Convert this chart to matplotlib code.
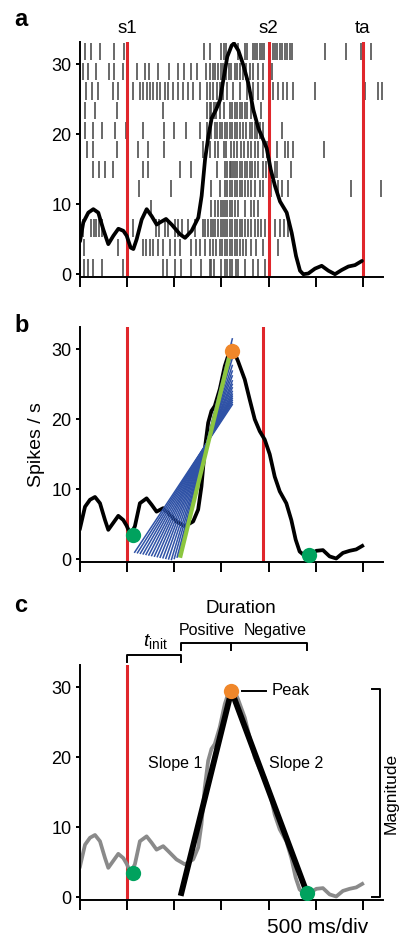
import matplotlib
matplotlib.use('Agg')
import matplotlib.pyplot as plt

plt.rcParams['font.family'] = ['Liberation Sans', 'DejaVu Sans']
plt.rcParams['mathtext.fontset'] = 'custom'
plt.rcParams['mathtext.rm'] = 'Liberation Sans'
plt.rcParams['mathtext.it'] = 'Liberation Sans:italic'

RED = '#e0262b'
GREEN_DOT = '#00a25e'
ORANGE = '#f0872a'
BLUE = '#2f52a6'
LIME = '#8cc63f'

# event times (ms)
S1, S2, TA = 500, 2000, 3000
S2_B = 1940

# spike raster, rows top -> bottom (ms)
raster = [
    [57, 120, 212, 361, 463, 1315, 1382, 1499, 1524, 1552, 1676, 1746, 1771, 1835, 1852, 1874,
     1905, 1930, 1951, 2047, 2065, 2093, 2117, 2142, 2171, 2199, 2224, 2248, 2595, 2824, 2976, 3090],
    [32, 85, 173, 304, 361, 456, 608, 686, 732, 827, 940, 1039, 1103, 1174, 1244, 1340, 1375,
     1410, 1435, 1463, 1492, 1517, 1552, 1577, 1605, 1640, 1669, 1700, 1729, 1764, 1799, 1835,
     1888, 1941, 2040],
    [64, 124, 194, 354, 407, 513, 566, 636, 672, 707, 742, 778, 813, 848, 901, 937, 990, 1043,
     1096, 1149, 1202, 1273, 1343, 1379, 1414, 1449, 1485, 1520, 1555, 1626, 1697, 1767, 1838,
     1891, 1944, 2015, 2050, 2103, 2156, 2192, 2262, 2492, 3022, 3164, 3205],
    [57, 156, 396, 880, 1350, 1375, 1393, 1421, 1446, 1481, 1527, 1587, 1612, 1640, 1669, 1693,
     1718, 1746, 1775, 1810, 1916],
    [49, 138, 233, 375, 491, 668, 891, 997, 1128, 1269, 1350, 1393, 1428, 1456, 1481, 1506, 1534,
     1562, 1587, 1612, 1640, 1669, 1693, 1729, 1764, 1799, 1824, 1852, 1881, 1905, 1941, 2142],
    [78, 138, 396, 615, 721, 891, 1304, 1375, 1428, 1463, 1527, 1552, 1598, 1633, 1669, 1704,
     1739, 1782, 1817, 1852, 1888, 1941, 1987, 2093, 2171, 2206, 2259, 2588],
    [138, 198, 269, 350, 668, 721, 1057, 1181, 1456, 1534, 1562, 1587, 1605, 1623, 1647, 1669,
     1693, 1718, 1746, 1775, 1799, 1824, 1852, 1888, 1941, 1976, 2064, 2093, 2241],
    [622, 962, 1393, 1481, 1534, 1562, 1587, 1612, 1640, 1669, 1693, 1718, 1746, 1782, 1817,
     1852, 1905, 1941, 2029, 2100, 2142, 2206, 2878, 3196],
    [756, 1393, 1435, 1463, 1492, 1517, 1541, 1562, 1587, 1612, 1640, 1676, 1746, 1810, 1840, 1890],
    [32, 120, 148, 173, 198, 233, 562, 810, 834, 905, 933, 1004, 1039, 1082, 1145, 1216, 1304,
     1329, 1357, 1386, 1410, 1435, 1463, 1492, 1517, 1541, 1562, 1587, 1612, 1640, 1669, 1693,
     1718, 1746, 1782, 1817, 1852, 1888, 1923, 1958, 2011, 2064, 2117, 2163, 2206],
    [42, 403, 668, 703, 739, 774, 827, 880, 951, 1004, 1057, 1181, 1234, 1269, 1322, 1375, 1410,
     1446, 1481, 1506, 1534, 1562, 1587, 1612, 1640, 1669, 1693, 1729, 1764, 1817, 1870, 1941,
     2011, 2100],
    [42, 85, 138, 233, 456, 880, 926, 1004, 1075, 1181, 1287, 1375, 1393, 1421, 1499, 1534,
     1562, 1590, 1612, 1650, 1676, 1746, 1835, 1890, 1960],
]

# smoothed rate, panel a
rate_a_t = [0, 35, 88, 141, 194, 247, 300, 354, 407, 460, 495, 537, 566, 601, 654, 707, 760,
            813, 848, 912, 972, 1061, 1114, 1184, 1255, 1290, 1326, 1361, 1396, 1442, 1485,
            1520, 1562, 1608, 1633, 1679, 1732, 1785, 1838, 1891, 1944, 1980, 2022, 2068,
            2121, 2192, 2245, 2291, 2333, 2368, 2421, 2492, 2563, 2634, 2704, 2775, 2846,
            2916, 2990]
rate_a_v = [4.7, 7.4, 8.8, 9.3, 8.8, 6.4, 4.3, 5.5, 6.5, 6.2, 5.5, 3.8, 3.6, 5.0, 7.8, 9.3, 8.3,
            7.1, 7.4, 7.9, 7.1, 5.7, 5.2, 6.2, 8.1, 11.2, 16.4, 19.7, 22.3, 23.5, 24.9,
            27.8, 31.1, 32.7, 33.0, 32.0, 29.9, 27.3, 23.5, 20.9, 19.2, 18.0, 15.0, 12.6,
            10.4, 8.8, 5.9, 2.6, 0.5, 0.0, 0.1, 0.8, 1.2, 0.5, 0.0, 0.6, 1.1, 1.3, 1.9]

# smoothed rate, panels b and c
rate_b_t = [0, 53, 106, 159, 212, 265, 300, 353, 406, 459, 494, 536, 582, 635, 706, 759, 812,
            882, 935, 1023, 1112, 1200, 1253, 1288, 1323, 1359, 1394, 1429, 1482, 1535, 1588,
            1623, 1676, 1747, 1800, 1853, 1906, 1959, 2012, 2065, 2118, 2188, 2241, 2287,
            2329, 2382, 2435, 2506, 2576, 2647, 2717, 2788, 2859, 2929, 2993]
rate_b_v = [4.4, 7.5, 8.5, 8.9, 8.0, 5.6, 4.2, 5.2, 6.2, 5.6, 4.8, 3.5, 4.7, 8.0, 8.7, 7.8, 6.8,
            7.3, 6.6, 5.4, 4.7, 5.4, 7.1, 10.4, 15.7, 19.5, 21.2, 21.9, 24.3, 27.6, 29.8,
            30.0, 28.3, 25.7, 22.8, 20.0, 18.3, 17.1, 15.0, 11.8, 9.7, 8.0, 5.6, 2.8,
            1.1, 0.5, 0.6, 1.2, 1.3, 0.4, 0.1, 0.9, 1.2, 1.4, 1.9]

# candidate onset fits in panel b
fan_t0 = [580, 610, 640, 670, 700, 730, 760, 790, 820, 850, 880, 910, 940, 970, 1000, 1030, 1050]
fan_v0 = [1.0, 0.92, 0.84, 0.76, 0.68, 0.60, 0.52, 0.44, 0.36, 0.28, 0.20, 0.12, 0.04, -0.04,
          0.1, 0.3, 0.5]
fan_t1 = 1615
fan_v1 = [22.1, 22.4, 22.7, 23.0, 23.3, 23.6, 24.0, 24.5, 25.0, 25.5, 26.2, 26.9, 27.7, 28.7,
          29.6, 30.7, 31.5]
best_fit_t = [1066, 1590]
best_fit_v = [0.5, 29.3]

onset = (558, 3.5)
offset_b = (2428, 0.6)
peak = (1610, 29.8)

# panel c triangle model
tri_t = [1075, 1606, 2407]
tri_v = [0.6, 29.5, 0.6]
offset_c = (2407, 0.6)

XMAX = 3215
YLIM = (-0.4, 33.2)
W = 403
H = 938


def make_axes(fig, top_px):
    left = 80 / W
    width = XMAX * 0.0943 / W
    height = 235 / H
    bottom = 1 - (top_px + 235) / H
    ax = fig.add_axes([left, bottom, width, height])
    ax.set_xlim(0, XMAX)
    ax.set_ylim(*YLIM)
    for s in ['top', 'right']:
        ax.spines[s].set_visible(False)
    for s in ['left', 'bottom']:
        ax.spines[s].set_linewidth(1.4)
    ax.set_xticks(range(0, 3001, 500))
    ax.set_xticklabels([])
    ax.set_yticks([0, 10, 20, 30])
    ax.tick_params(axis='x', length=7, width=1.4, direction='out')
    ax.tick_params(axis='y', length=3, width=1.4, direction='out', labelsize=13, pad=3)
    return ax


fig = plt.figure(figsize=(W / 100, H / 100), dpi=100)

# ---- panel a
ax1 = make_axes(fig, 42)
row_h = (YLIM[1] - YLIM[0]) / len(raster)
offsets = [YLIM[1] - row_h * (i + 0.5) for i in range(len(raster))]
ax1.eventplot(raster, lineoffsets=offsets, linelengths=row_h * 0.88, linewidths=1.2,
              colors='#4f4f4f', zorder=1)
for t in (S1, S2, TA):
    ax1.axvline(t, color=RED, lw=2.2, zorder=2)
ax1.plot(rate_a_t, rate_a_v, color='black', lw=2.7, zorder=3, solid_capstyle='round')
for t, lab in ((S1, 's1'), (S2, 's2'), (TA, 'ta')):
    ax1.text(t, 33.9, lab, ha='center', va='bottom', fontsize=13.5, clip_on=False)

# ---- panel b
ax2 = make_axes(fig, 327)
for t in (S1, S2_B):
    ax2.plot([t, t], [0, YLIM[1]], color=RED, lw=2.2, zorder=1)
ax2.plot(rate_b_t, rate_b_v, color='black', lw=2.7, zorder=2)
for t0, v0, v1 in zip(fan_t0, fan_v0, fan_v1):
    ax2.plot([t0, fan_t1], [v0, v1], color=BLUE, lw=1.1, zorder=3)
ax2.plot(best_fit_t, best_fit_v, color=LIME, lw=3.0, zorder=4)
ax2.plot(*onset, 'o', color=GREEN_DOT, ms=11, mec='none', zorder=5)
ax2.plot(*offset_b, 'o', color=GREEN_DOT, ms=11, mec='none', zorder=5)
ax2.plot(*peak, 'o', color=ORANGE, ms=11, mec='none', zorder=5)
ax2.set_ylabel('Spikes / s', fontsize=14, labelpad=5)

# ---- panel c
ax3 = make_axes(fig, 665)
ax3.plot([S1, S1], [0, YLIM[1]], color=RED, lw=2.2, zorder=1)
ax3.plot(rate_b_t, rate_b_v, color='#8a8a8a', lw=2.7, zorder=2)
ax3.plot(tri_t, tri_v, color='black', lw=4.2, zorder=3)
ax3.plot(*onset, 'o', color=GREEN_DOT, ms=11, mec='none', zorder=5)
ax3.plot(*offset_c, 'o', color=GREEN_DOT, ms=11, mec='none', zorder=5)
ax3.plot(tri_t[1], tri_v[1], 'o', color=ORANGE, ms=11, mec='none', zorder=5)

kw = dict(color='black', lw=1.4, clip_on=False)
# t_init bracket
ax3.plot([S1, S1, tri_t[0], tri_t[0]], [33.6, 34.7, 34.7, 33.6], **kw)
# duration bracket
ax3.plot([tri_t[0], tri_t[0], tri_t[2], tri_t[2]], [35.4, 36.4, 36.4, 35.4], **kw)
ax3.plot([tri_t[1], tri_t[1]], [36.4, 35.4], **kw)
# magnitude bracket
ax3.plot([3096, 3181, 3181, 3096], [29.7, 29.7, 0.1, 0.1], **kw)
# peak pointer
ax3.plot([1722, 1976], [29.5, 29.5], **kw)

ax3.text(2029, 29.5, 'Peak', ha='left', va='center', fontsize=12)
ax3.text(1007, 19.1, 'Slope 1', ha='center', va='center', fontsize=11.5)
ax3.text(2290, 19.1, 'Slope 2', ha='center', va='center', fontsize=11.5)
ax3.text(795, 35.2, r'$t_{\mathrm{init}}$', ha='center', va='bottom', fontsize=14,
         clip_on=False)
ax3.text(1347, 37.0, 'Positive', ha='center', va='bottom', fontsize=11.5, clip_on=False)
ax3.text(2068, 37.0, 'Negative', ha='center', va='bottom', fontsize=11.5, clip_on=False)
ax3.text(1707, 40.0, 'Duration', ha='center', va='bottom', fontsize=13.5, clip_on=False)
ax3.text(3300, 14.8, 'Magnitude', ha='center', va='center', rotation=90, fontsize=12.5,
         clip_on=False)
ax3.text(2524, -4.4, '500 ms/div', ha='center', va='center', fontsize=15, clip_on=False)

for lab, y in (('a', 20), ('b', 325), ('c', 605)):
    fig.text(14 / W, 1 - y / H, lab, fontsize=17, fontweight='bold', ha='left', va='center')

fig.savefig('out.png', dpi=100)
